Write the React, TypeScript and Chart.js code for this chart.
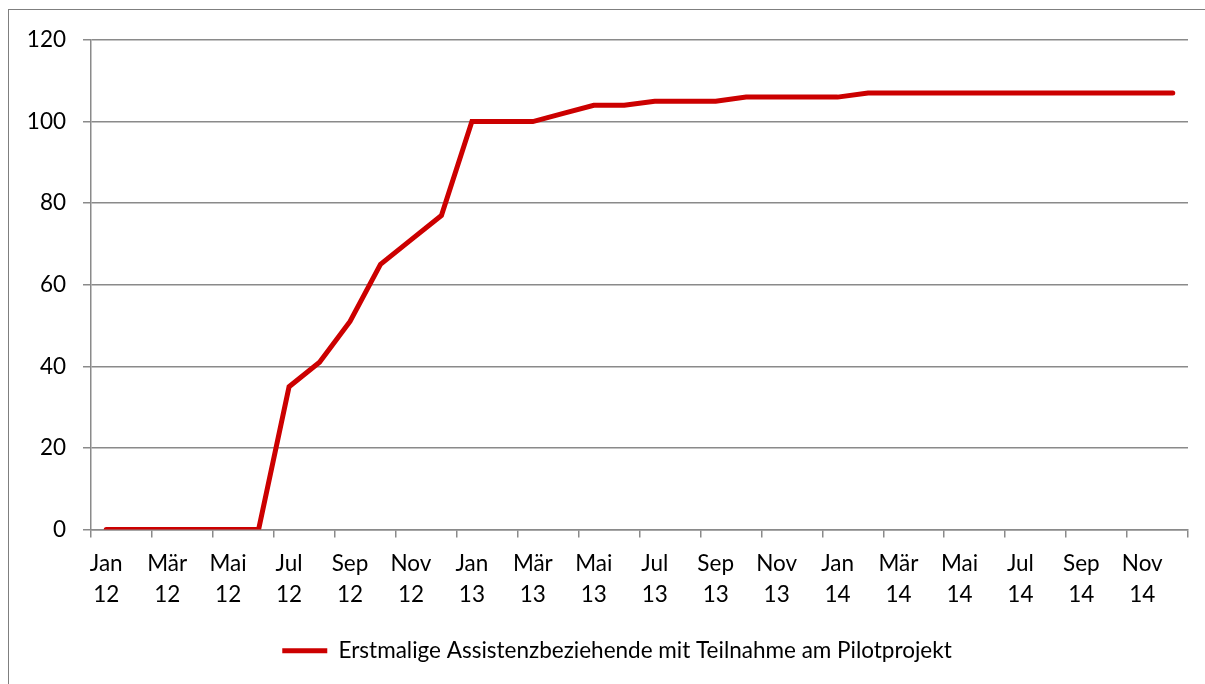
import React, { useEffect, useRef } from "react";
import { Chart, registerables } from "chart.js";

Chart.register(...registerables);

const categories: string[] = [
  "Jan 12", "Feb 12", "Mär 12", "Apr 12", "Mai 12", "Jun 12",
  "Jul 12", "Aug 12", "Sep 12", "Okt 12", "Nov 12", "Dez 12",
  "Jan 13", "Feb 13", "Mär 13", "Apr 13", "Mai 13", "Jun 13",
  "Jul 13", "Aug 13", "Sep 13", "Okt 13", "Nov 13", "Dez 13",
  "Jan 14", "Feb 14", "Mär 14", "Apr 14", "Mai 14", "Jun 14",
  "Jul 14", "Aug 14", "Sep 14", "Okt 14", "Nov 14", "Dez 14",
];

const seriesLabel = "Erstmalige Assistenzbeziehende mit Teilnahme am Pilotprojekt";

const values: number[] = [
  0, 0, 0, 0, 0, 0, 35, 41, 51, 65, 71, 77,
  100, 100, 100, 102, 104, 104, 105, 105, 105, 106, 106, 106,
  106, 107, 107, 107, 107, 107, 107, 107, 107, 107, 107, 107,
];

const yTicks: number[] = [0, 20, 40, 60, 80, 100, 120];

const FONT = "Lato";
const FS = 22.5;
const GRAY = "#8a8a8a";

const legendShift = {
  id: "legendShift",
  beforeDraw(chart: any) {
    const lg = chart.legend;
    if (lg) {
      lg.left += 13;
      lg.right += 13;
    }
  },
};

export default function App() {
  const ref = useRef<HTMLCanvasElement | null>(null);

  useEffect(() => {
    if (!ref.current) return;
    const chart = new Chart(ref.current, {
      type: "line",
      data: {
        labels: categories,
        datasets: [
          {
            label: seriesLabel,
            data: values,
            borderColor: "#cc0000",
            backgroundColor: "#cc0000",
            borderWidth: 5,
            borderCapStyle: "round",
            borderJoinStyle: "miter",
            pointRadius: 0,
            tension: 0,
            fill: false,
          },
        ],
      },
      options: {
        responsive: false,
        animation: false,
        layout: { padding: { left: 20, right: 17, top: 40, bottom: 12 } },
        plugins: {
          tooltip: { enabled: false },
          legend: {
            position: "bottom",
            labels: {
              usePointStyle: true,
              pointStyle: "line",
              pointStyleWidth: 45,
              padding: 10,
              color: "#000",
              font: { family: FONT, size: FS },
            },
          },
        },
        scales: {
          x: {
            type: "category",
            offset: true,
            afterFit: (s: any) => {
              s.height = 100;
            },
            grid: {
              offset: true,
              drawOnChartArea: false,
              drawTicks: true,
              tickLength: 8,
              lineWidth: 1.5,
              tickColor: (ctx: any) =>
                ctx.index === undefined || ctx.index % 2 === 0 ? GRAY : "rgba(0,0,0,0)",
            },
            border: { display: true, color: GRAY, width: 1.5 },
            ticks: {
              autoSkip: false,
              maxRotation: 0,
              minRotation: 0,
              padding: 10,
              color: "#000",
              font: { family: FONT, size: FS, lineHeight: 1.4 },
              callback: (_v: any, idx: number) =>
                idx % 2 === 0 ? categories[idx].split(" ") : "",
            },
          },
          y: {
            min: yTicks[0],
            max: yTicks[yTicks.length - 1],
            afterFit: (s: any) => {
              s.width = 71;
            },
            afterBuildTicks: (s: any) => {
              s.ticks = yTicks.map((v) => ({ value: v }));
            },
            grid: {
              color: GRAY,
              lineWidth: 1.5,
              drawTicks: true,
              tickLength: 8,
            },
            border: { display: true, color: GRAY, width: 1.5 },
            ticks: {
              padding: 17,
              color: "#000",
              font: { family: FONT, size: FS },
            },
          },
        },
      },
      plugins: [legendShift],
    });
    return () => chart.destroy();
  }, []);

  return (
    <div>
      <div
        style={{
          position: "absolute",
          left: 0,
          top: 0,
          width: 1205,
          height: 684,
          overflow: "hidden",
          background: "#fff",
        }}
      >
        <canvas ref={ref} width={1205} height={684} style={{ display: "block" }} />
        <div
          style={{
            position: "absolute",
            left: 8,
            top: 9,
            width: 1197,
            height: 675,
            boxSizing: "border-box",
            borderTop: "1px solid #7f7f7f",
            borderLeft: "1px solid #7f7f7f",
            pointerEvents: "none",
          }}
        />
      </div>
    </div>
  );
}
